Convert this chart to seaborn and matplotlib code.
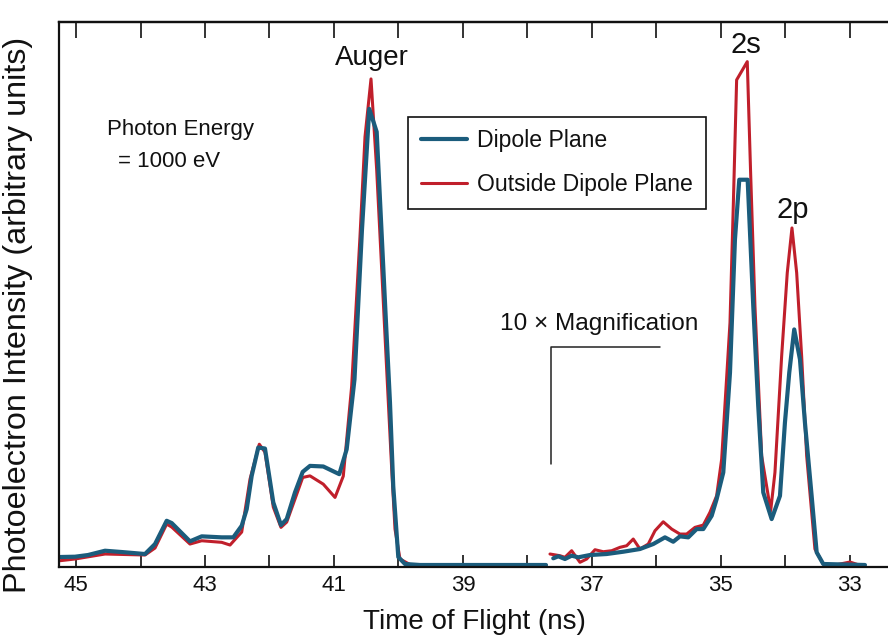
import numpy as np
import pandas as pd
import matplotlib
matplotlib.use("Agg")
import matplotlib.pyplot as plt
import seaborn as sns
from matplotlib.lines import Line2D

# ---------------- data (time of flight in ns, intensity in arbitrary units) -------------
dip_left_t = [45.248, 45.016, 44.814, 44.550, 44.291, 43.930, 43.775, 43.594, 43.516, 43.233,
              43.051, 42.741, 42.561, 42.431, 42.353, 42.276, 42.174, 42.070, 41.941, 41.822,
              41.733, 41.605, 41.485, 41.372, 41.166, 40.918, 40.803, 40.682, 40.566, 40.453,
              40.338, 40.209, 40.132, 40.081, 40.003, 39.899, 39.667, 37.713]
dip_left_i = [9, 9.3, 11, 15.3, 14, 12, 22, 45.3, 43, 24.7,
              29.7, 28.7, 28.7, 40.3, 57, 90.3, 118.7, 117.7, 63.7, 41,
              47, 73.7, 94.3, 100.3, 99.7, 92, 117, 187, 337, 458,
              435, 264, 164, 80, 9, 2, 1, 1]

out_left_t = [45.248, 45.016, 44.550, 43.930, 43.775, 43.594, 43.516, 43.233, 43.051, 42.741,
              42.612, 42.431, 42.302, 42.158, 42.070, 41.941, 41.822, 41.733, 41.605, 41.485,
              41.372, 41.166, 40.984, 40.856, 40.726, 40.597, 40.519, 40.426, 40.338, 40.260,
              40.183, 40.105, 40.054, 39.977, 39.822, 37.713]
out_left_i = [5.3, 7, 12, 11, 18, 42, 39, 22, 25.3, 23.7,
              21, 34, 87, 122, 114, 59, 38.7, 44, 67, 88.7,
              90.3, 82, 68.7, 90, 180, 330, 430, 488, 397, 297,
              197, 97, 37, 7, 1.5, 1]

dip_right_t = [37.600, 37.522, 37.419, 37.315, 37.212, 37.031, 36.772, 36.515, 36.256, 36.050,
               35.868, 35.740, 35.636, 35.507, 35.377, 35.274, 35.144, 35.067, 34.964, 34.860,
               34.783, 34.716, 34.586, 34.499, 34.422, 34.344, 34.214, 34.085, 34.008, 33.941,
               33.864, 33.775, 33.698, 33.594, 33.516, 33.414, 32.767]
dip_right_i = [7.7, 9.7, 7, 10.3, 8.7, 11, 12, 14.3, 17, 22,
               28.7, 24.3, 29.7, 28.7, 37, 37, 50.3, 67, 93.7, 193.7,
               327, 387, 387, 260.3, 160.3, 73.7, 47, 70.3, 143.7, 193.7,
               237, 207, 143.7, 70.3, 13.7, 2, 1]

out_right_t = [37.651, 37.496, 37.419, 37.315, 37.186, 37.082, 36.953, 36.825, 36.694, 36.566,
               36.462, 36.360, 36.256, 36.127, 36.023, 35.895, 35.764, 35.636, 35.532, 35.403,
               35.274, 35.171, 35.067, 34.989, 34.860, 34.809, 34.757, 34.592, 34.540, 34.473,
               34.369, 34.229, 34.163, 34.059, 33.972, 33.899, 33.826, 33.749, 33.671, 33.543,
               33.414, 33.264, 33.000, 32.814]
out_right_i = [12, 10.3, 8.7, 15.3, 3.7, 7, 16.3, 14.3, 15.3, 18.7,
               20.3, 27, 17, 22, 35.3, 44.3, 37, 32, 32, 38.7,
               41, 53.7, 70.3, 107, 243.7, 360.3, 487, 505.3, 393.7, 260.3,
               110.3, 55.3, 93.7, 210.3, 293.7, 338.7, 293.7, 210.3, 110.3, 17,
               2, 0.5, 4, 0]

series_names = ["Dipole Plane", "Outside Dipole Plane"]
x_ticks = [45, 43, 41, 39, 37, 35, 33]

# ---------------- build long table ----------------
def part(t, i, name, seg):
    return pd.DataFrame({"t": t, "I": i, "series": name, "seg": seg})

df = pd.concat([
    part(dip_left_t, dip_left_i, series_names[0], "a"),
    part(dip_right_t, dip_right_i, series_names[0], "b"),
    part(out_left_t, out_left_i, series_names[1], "c"),
    part(out_right_t, out_right_i, series_names[1], "d"),
], ignore_index=True)

sns.set_theme(style="ticks")
plt.rcParams["font.family"] = ["Liberation Sans", "DejaVu Sans"]
plt.rcParams["text.color"] = "#111111"
plt.rcParams["axes.labelcolor"] = "#111111"
plt.rcParams["xtick.color"] = "#111111"

fig = plt.figure(figsize=(8.88, 6.35), dpi=100)
ax = fig.add_axes([0.067, 0.1071, 0.933, 0.859])

blue = "#1b5c7c"
red = "#c01f2b"

sns.lineplot(data=df[df.series == series_names[1]], x="t", y="I", units="seg",
             estimator=None, sort=False, color=red, linewidth=2.2, ax=ax,
             legend=False)
sns.lineplot(data=df[df.series == series_names[0]], x="t", y="I", units="seg",
             estimator=None, sort=False, color=blue, linewidth=3.0, ax=ax,
             legend=False)

ax.set_xlim(45.256, 32.41)
ax.set_ylim(-1, 545.5)

# axes styling
for s in ["top", "bottom", "left"]:
    ax.spines[s].set_visible(True)
    ax.spines[s].set_linewidth(1.6)
    ax.spines[s].set_color("#111111")
ax.spines["right"].set_visible(False)

ax.set_xticks(x_ticks)
ax.set_xticklabels([str(v) for v in x_ticks])
ax.set_xticks(np.arange(33, 46, 1), minor=True)
ax.set_yticks([])
ax.tick_params(axis="x", which="both", direction="in", length=8.5, width=1.2,
               top=False, labeltop=False, labelsize=16, pad=6, color="#111111",
               labelcolor="#111111")

# top ticks (slightly longer, unlabeled)
top = ax.secondary_xaxis("top")
top.set_xticks(np.arange(33, 46, 1))
top.set_xticklabels([])
top.tick_params(axis="x", which="both", direction="in", length=11.5, width=1.2,
                color="#111111")
top.spines["top"].set_linewidth(1.6)
top.spines["top"].set_color("#111111")

ax.set_xlabel("Time of Flight (ns)", fontsize=20)
ax.xaxis.set_label_coords(0.5003, -0.1008)
ax.xaxis.label.set_va("center")
ax.set_ylabel("Photoelectron Intensity (arbitrary units)", fontsize=23.3)
ax.yaxis.set_label_coords(-0.05, 0.462)
ax.yaxis.label.set_va("center")

# annotations
ax.text(44.519, 437, "Photon Energy", fontsize=16, ha="left", va="center")
ax.text(44.349, 405, "= 1000 eV", fontsize=16, ha="left", va="center")
ax.text(40.411, 502, "Auger", fontsize=20, ha="center", va="baseline")
ax.text(34.612, 513.7, "2s", fontsize=21, ha="center", va="baseline")
ax.text(33.891, 348.7, "2p", fontsize=21, ha="center", va="baseline")

# magnification marker
ax.plot([37.636, 37.636, 35.946], [102, 219, 219], color="#222222", linewidth=1.1)
ax.text(38.426, 242, "10 \u00d7 Magnification", fontsize=17.6, ha="left", va="center")

# legend
handles = [Line2D([0], [0], color=blue, linewidth=3.0),
           Line2D([0], [0], color=red, linewidth=2.2)]
leg = ax.legend(handles, series_names, loc="upper left", bbox_to_anchor=(0.4206, 0.8255),
                fontsize=16.6, frameon=True, fancybox=False, framealpha=1,
                edgecolor="#111111", handlelength=2.0, handletextpad=0.45,
                borderpad=0.55, labelspacing=0.9, borderaxespad=0)
leg.get_frame().set_linewidth(1.2)

fig.savefig("out.png", dpi=100)
